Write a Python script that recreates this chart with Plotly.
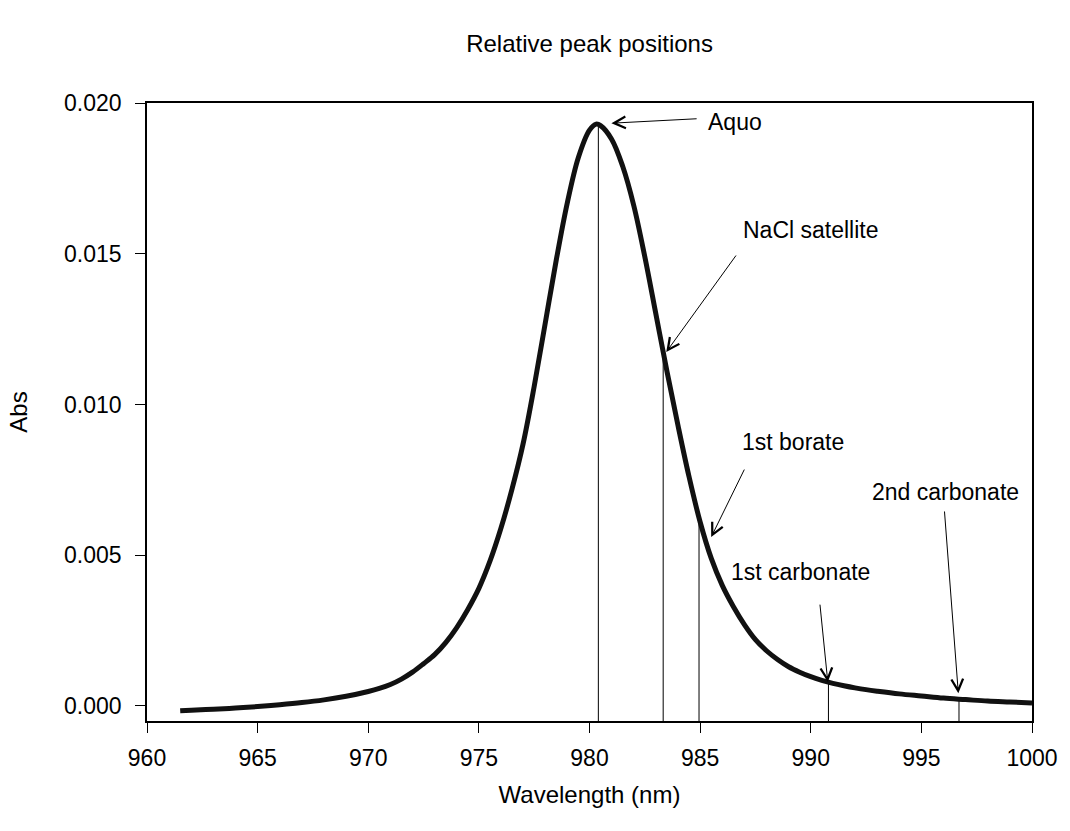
import plotly.graph_objects as go

# Spectrum
wavelength = [961.5, 962, 963, 964, 965, 966, 967, 968, 969, 970, 970.5, 971, 971.5,
              972, 972.5, 973, 973.5, 974, 974.5, 975, 975.5, 976, 976.5, 977, 977.5,
              978, 978.5, 979, 979.5, 980, 980.3, 980.5, 981, 981.5, 982, 982.5, 983,
              983.5, 984, 984.5, 985, 985.5, 986, 986.5, 987, 987.5, 988, 988.5, 989,
              989.5, 990, 990.5, 991, 991.5, 992, 992.5, 993, 994, 995, 996, 997, 998,
              999, 1000]
absorbance = [-0.00016, -0.00014, -0.00011, -0.00007, -0.00002, 0.00004, 0.00011, 0.0002,
              0.00032, 0.00048, 0.00058, 0.00071, 0.00089, 0.00112, 0.0014, 0.0017,
              0.0021, 0.0026, 0.0032, 0.0039, 0.0048, 0.0059, 0.0072, 0.0087, 0.0106,
              0.0127, 0.0148, 0.0167, 0.0182, 0.0191, 0.0193, 0.01925, 0.0188, 0.0179,
              0.0166, 0.0149, 0.0130, 0.0111, 0.0093, 0.0076, 0.0061, 0.0049, 0.0040,
              0.0033, 0.0027, 0.0022, 0.00183, 0.00154, 0.0013, 0.00112, 0.00097,
              0.00085, 0.00075, 0.00067, 0.0006, 0.00054, 0.00049, 0.0004, 0.00033,
              0.00026, 0.00021, 0.00016, 0.00013, 0.0001]

# Peak markers (vertical lines)
peak_names = ["Aquo", "NaCl satellite", "1st borate", "1st carbonate", "2nd carbonate"]
peak_wl = [980.4, 983.33, 984.95, 990.8, 996.7]
peak_abs = [0.0193, 0.0117, 0.0062, 0.00076, 0.00021]

# Label positions / arrow geometry (data coords)
label_x = [985.27, 986.85, 986.79, 986.29, 992.66]
label_y = [0.01938, 0.0158, 0.00877, 0.00445, 0.00711]
arrow_tip_x = [980.99, 983.47, 985.5, 990.77, 996.67]
arrow_tip_y = [0.01933, 0.01174, 0.0056, 0.00079, 0.00042]
arrow_tail_x = [984.91, 986.67, 987.03, 990.41, 996.04]
arrow_tail_y = [0.01948, 0.01499, 0.00789, 0.00341, 0.0065]

y_min, y_max = -0.0005, 0.020
x_min, x_max = 960, 1000

FONT = "Arial, Liberation Sans, sans-serif"

fig = go.Figure()

# vertical peak lines
vx, vy = [], []
for w, a in zip(peak_wl, peak_abs):
    vx += [w, w, None]
    vy += [y_min, a, None]
fig.add_trace(go.Scatter(x=vx, y=vy, mode="lines",
                         line=dict(color="black", width=1), hoverinfo="skip",
                         showlegend=False))

fig.add_trace(go.Scatter(x=wavelength, y=absorbance, mode="lines",
                         line=dict(color="#111111", width=5, shape="spline",
                                   smoothing=1.0),
                         showlegend=False))

annotations = []
for i in range(len(peak_names)):
    annotations.append(dict(x=arrow_tip_x[i], y=arrow_tip_y[i],
                            ax=arrow_tail_x[i], ay=arrow_tail_y[i],
                            axref="x", ayref="y", xref="x", yref="y",
                            text="", showarrow=True, arrowhead=5,
                            arrowsize=2.3, arrowwidth=1, arrowcolor="black",
                            standoff=0, startstandoff=0))
    annotations.append(dict(x=label_x[i], y=label_y[i], xref="x", yref="y",
                            text=peak_names[i], showarrow=False,
                            xanchor="left", yanchor="middle",
                            font=dict(family=FONT, size=23, color="black")))

fig.update_layout(
    width=1070, height=831,
    margin=dict(l=147, r=35, t=103, b=110),
    paper_bgcolor="white", plot_bgcolor="white",
    title=dict(text="Relative peak positions", x=0.551, xanchor="center",
               y=0.947, yanchor="middle",
               font=dict(family=FONT, size=24, color="black")),
    annotations=annotations,
    font=dict(family=FONT, color="black"),
)
fig.update_xaxes(range=[x_min, x_max], tickmode="array",
                 tickvals=[960, 965, 970, 975, 980, 985, 990, 995, 1000],
                 ticks="outside", ticklen=10, tickwidth=1, tickcolor="black",
                 showline=True, linecolor="black", linewidth=1.5, mirror=True,
                 showgrid=False, zeroline=False, ticklabelstandoff=6,
                 tickfont=dict(family=FONT, size=23, color="black"),
                 title=dict(text="Wavelength (nm)", standoff=16,
                            font=dict(family=FONT, size=24, color="black")))
fig.update_yaxes(range=[y_min, y_max], tickmode="array",
                 tickvals=[0.0, 0.005, 0.010, 0.015, 0.020], tickformat=".3f",
                 ticks="outside", ticklen=10, tickwidth=1, tickcolor="black",
                 showline=True, linecolor="black", linewidth=1.5, mirror=True,
                 showgrid=False, zeroline=False, ticklabelstandoff=9,
                 tickfont=dict(family=FONT, size=23, color="black"),
                 title=dict(text="Abs", standoff=30,
                            font=dict(family=FONT, size=24, color="black")))

fig.write_html("out.html")
